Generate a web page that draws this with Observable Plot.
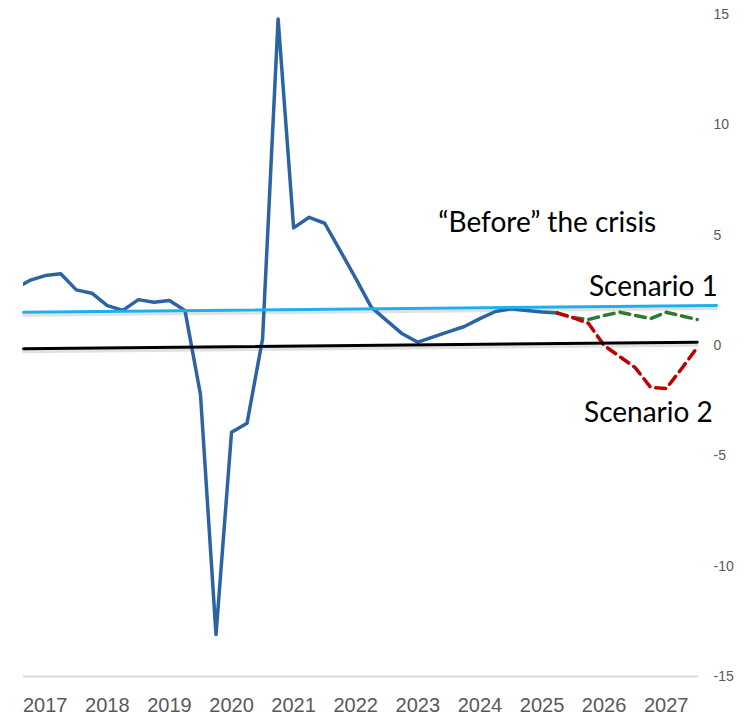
<!DOCTYPE html>
<html>
<head>
<meta charset="utf-8">
<script src="https://cdn.jsdelivr.net/npm/d3@7"></script>
<script src="https://cdn.jsdelivr.net/npm/@observablehq/plot@0.6"></script>
<style>
  html, body { margin: 0; padding: 0; background: #ffffff; }
  #chart svg { display: block; }
</style>
</head>
<body>
<div id="chart"></div>
<script>
// Quarterly GDP growth (% y/y), first quarter 2017Q1
const firstYear = 2017;
const actualValues = [2.54, 2.95, 3.17, 3.25, 2.52, 2.37, 1.81, 1.59, 2.08, 1.96, 2.04, 1.59,
  -2.22, -13.1, -3.93, -3.52, 0.30, 14.8, 5.33, 5.81, 5.54, 4.3, 3.04, 1.74,
  1.13, 0.53, 0.15, 0.39, 0.63, 0.86, 1.22, 1.54, 1.66, 1.59, 1.52, 1.47];
// Scenario paths start at quarter index 35 (last actual quarter)
const scenarioStart = 35;
const scenario1Values = [1.47, 1.26, 1.18, 1.36, 1.51, 1.36, 1.22, 1.51, 1.34, 1.18];
const scenario2Values = [1.47, 1.26, 1.0, 0.0, -0.5, -1.0, -1.9, -1.95, -1.04, -0.09];
// Reference lines (drawn shapes): zero line and "before the crisis" trend
const zeroLineX = [2017.15, 2028.0];
const zeroLineY = [-0.15, 0.15];
const trendLineX = [2017.15, 2028.31];
const trendLineY = [1.51, 1.81];
// Axis ticks
const yearLabels = [2017, 2018, 2019, 2020, 2021, 2022, 2023, 2024, 2025, 2026, 2027];
const yTicks = [-15, -10, -5, 0, 5, 10, 15];
// Annotations
const annotationLabels = ["\u201cBefore\u201d the crisis", "Scenario 1", "Scenario 2"];

const t = (i) => firstYear + i / 4;
const actual = actualValues.map((v, i) => ({t: t(i), v}));
const scen1 = scenario1Values.map((v, i) => ({t: t(scenarioStart + i), v}));
const scen2 = scenario2Values.map((v, i) => ({t: t(scenarioStart + i), v}));
const zeroLine = zeroLineX.map((x, i) => ({t: x, v: zeroLineY[i]}));
const trendLine = trendLineX.map((x, i) => ({t: x, v: trendLineY[i]}));
const annotStart = [{label: annotationLabels[0], t: 2023.83, v: 5.54}];
const annotEnd = [
  {label: annotationLabels[1], t: 2028.33, v: 2.64},
  {label: annotationLabels[2], t: 2028.25, v: -3.07}
];
const annotFont = {fontSize: 28, fill: "#000000", fontFamily: "Lato, 'Open Sans', sans-serif"};

const chart = Plot.plot({
  width: 754,
  height: 715,
  marginLeft: 23,
  marginRight: 56,
  marginTop: 14,
  marginBottom: 39,
  style: {color: "#595959", fontFamily: "'Liberation Sans', Arial, sans-serif", background: "#ffffff", overflow: "visible"},
  x: {domain: [2017.15, 2028.02]},
  y: {domain: [-15, 15]},
  marks: [
    Plot.ruleY([-15], {stroke: "#d9d9d9", strokeWidth: 2}),
    Plot.axisY({anchor: "right", ticks: yTicks, tickFormat: d => String(d), tickSize: 0, tickPadding: 15, fontSize: 14, label: null}),
    Plot.axisX({ticks: yearLabels.map(y => y + 0.5), tickFormat: d => String(Math.floor(d)), tickSize: 0, tickPadding: 21, fontSize: 20, label: null}),
    // shadows of drawn shapes
    Plot.line(zeroLine, {x: "t", y: "v", stroke: "#888", strokeWidth: 3, strokeOpacity: 0.25, dy: 3}),
    Plot.line(trendLine, {x: "t", y: "v", stroke: "#888", strokeWidth: 3, strokeOpacity: 0.25, dy: 3}),
    Plot.line(actual, {x: "t", y: "v", stroke: "#2c64a3", strokeWidth: 3.5, clip: true}),
    Plot.line(scen1, {x: "t", y: "v", stroke: "#2e7a30", strokeWidth: 3.5, strokeDasharray: "10,6"}),
    Plot.line(scen2, {x: "t", y: "v", stroke: "#c00000", strokeWidth: 3.5, strokeDasharray: "10,6"}),
    Plot.line(zeroLine, {x: "t", y: "v", stroke: "#000000", strokeWidth: 3}),
    Plot.line(trendLine, {x: "t", y: "v", stroke: "#1cb0ec", strokeWidth: 3}),
    Plot.text(annotStart, {x: "t", y: "v", text: "label", textAnchor: "start", ...annotFont}),
    Plot.text(annotEnd, {x: "t", y: "v", text: "label", textAnchor: "end", ...annotFont})
  ]
});
document.getElementById("chart").appendChild(chart);
</script>
</body>
</html>
